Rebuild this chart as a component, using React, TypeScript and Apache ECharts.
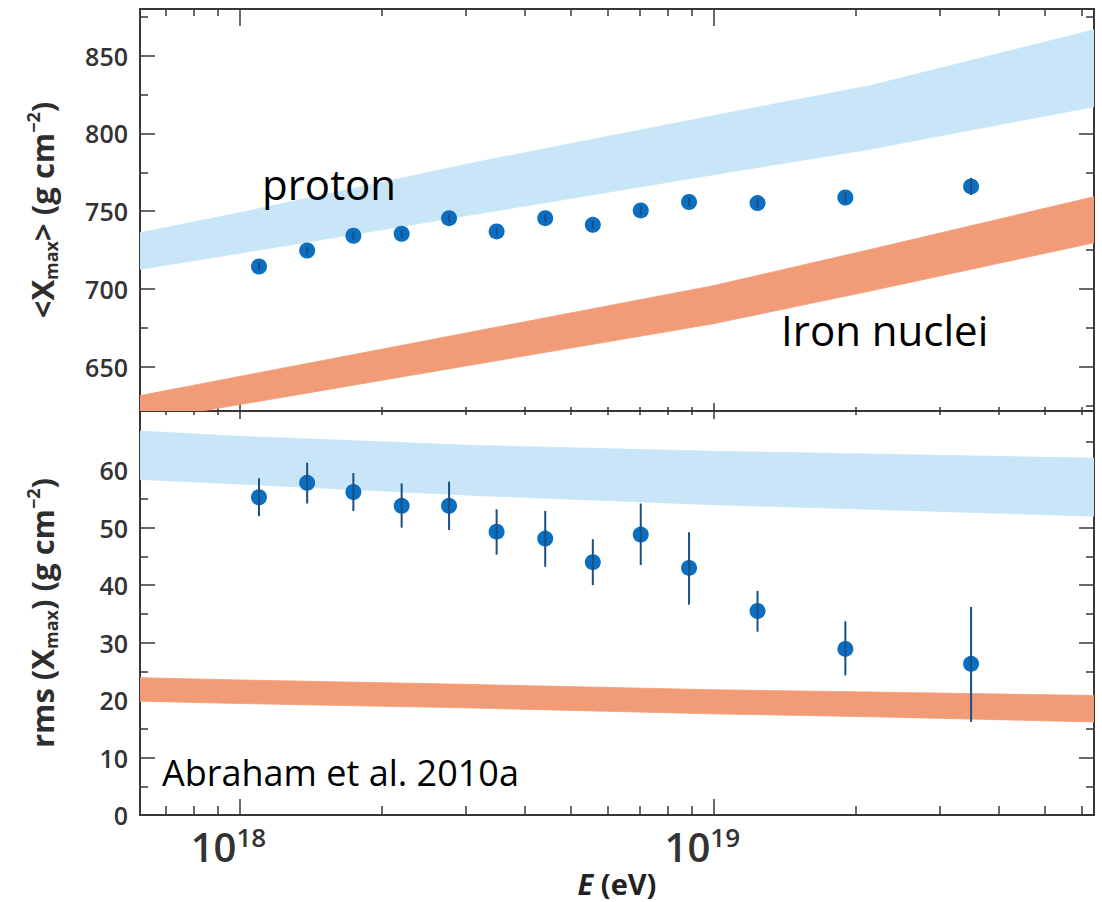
import React, { useEffect, useRef } from 'react';
import * as echarts from 'echarts';

// ---------- data ----------
const energy = [1.10e18, 1.39e18, 1.74e18, 2.20e18, 2.77e18, 3.49e18, 4.42e18, 5.57e18, 7.03e18, 8.89e18, 1.24e19, 1.90e19, 3.50e19];
const meanXmax = [714.4, 724.7, 734.2, 735.5, 745.5, 737.0, 745.5, 741.2, 750.5, 755.9, 755.2, 758.8, 765.9];
const meanXmaxErr = [2.5, 2.5, 2.5, 2.5, 2.5, 2.5, 2.5, 2.5, 3, 3, 3, 3.5, 5.5];
const rmsXmax = [55.3, 57.8, 56.2, 53.8, 53.8, 49.3, 48.1, 44.0, 48.8, 43.0, 35.5, 28.9, 26.3];
const rmsLow = [52.0, 54.2, 52.9, 50.0, 49.6, 45.3, 43.2, 40.0, 43.5, 36.6, 31.9, 24.3, 16.2];
const rmsHigh = [58.6, 61.3, 59.5, 57.7, 58.0, 53.2, 52.9, 48.0, 54.2, 49.2, 39.0, 33.7, 36.2];

const bandEnergy = [6.17e17, 1e18, 3.16e18, 1e19, 2.14e19, 6.36e19];
const protonMeanLow = [712.6, 722.9, 748.1, 773.4, 789.8, 817.2];
const protonMeanHigh = [736.1, 749.0, 781.5, 811.4, 830.7, 866.7];
const ironMeanLow = [614.7, 625.6, 651.6, 677.6, 698.6, 729.7];
const ironMeanHigh = [631.4, 643.7, 672.9, 702.1, 725.3, 759.3];
const protonRmsLow = [58.4, 57.6, 55.6, 54.0, 53.2, 52.0];
const protonRmsHigh = [66.8, 65.9, 64.3, 63.3, 62.8, 62.1];
const ironRmsLow = [19.8, 19.4, 18.6, 17.6, 17.1, 16.2];
const ironRmsHigh = [23.9, 23.5, 22.7, 21.8, 21.4, 20.8];

const xMajorTicks = [1e18, 1e19];
const xMinorTicks = [7e17, 8e17, 9e17, 2e18, 3e18, 4e18, 5e18, 6e18, 7e18, 8e18, 9e18, 2e19, 3e19, 4e19, 5e19, 6e19];
const yMajorTop = [650, 700, 750, 800, 850];
const yMinorTop = [625, 675, 725, 775, 825, 875];
const yMajorBottom = [0, 10, 20, 30, 40, 50, 60];
const yMinorBottom = [5, 15, 25, 35, 45, 55, 65];

const X_MIN = 6.17e17;
const X_MAX = 6.36e19;
const TOP_MIN = 621.5;
const TOP_MAX = 880;
const BOT_MIN = 0;
const BOT_MAX = 70.3;

// ---------- styles ----------
const AXIS_COLOR = '#3b3535';
const LABEL_COLOR = '#333333';
const PROTON_COLOR = '#c8e6f8';
const IRON_COLOR = '#f29c77';
const POINT_COLOR = '#0a6fc0';
const ERR_COLOR = '#1b4f82';
const FONT = '"Open Sans", "DejaVu Sans", sans-serif';

function xAxis(gridIndex: number, position: string, ticks: number[], len: number, extra: any = {}) {
  return {
    type: 'log',
    logBase: 10,
    gridIndex,
    position,
    min: X_MIN,
    max: X_MAX,
    axisLine: { show: true, onZero: false, lineStyle: { color: AXIS_COLOR, width: 2 } },
    axisTick: { show: true, inside: true, length: len, customValues: ticks, lineStyle: { color: AXIS_COLOR, width: 1.5 } },
    axisLabel: { show: false },
    splitLine: { show: false },
    minorTick: { show: false },
    minorSplitLine: { show: false },
    ...extra,
  };
}

function yAxis(gridIndex: number, position: string, min: number, max: number, ticks: number[], len: number, extra: any = {}) {
  return {
    type: 'value',
    gridIndex,
    position,
    min,
    max,
    axisLine: { show: true, onZero: false, lineStyle: { color: AXIS_COLOR, width: 2 } },
    axisTick: { show: true, inside: true, length: len, customValues: ticks, lineStyle: { color: AXIS_COLOR, width: 1.5 } },
    axisLabel: { show: false },
    splitLine: { show: false },
    ...extra,
  };
}

const yLabel = (ticks: number[]) => ({
  show: true,
  customValues: ticks,
  margin: 12,
  color: LABEL_COLOR,
  fontFamily: FONT,
  fontSize: 25,
  fontWeight: 600,
});

const nameRich = {
  n: { fontSize: 31, fontWeight: 'bold', color: '#2e2e2e', fontFamily: FONT, lineHeight: 36 },
  sub: { fontSize: 18, fontWeight: 'bold', color: '#2e2e2e', fontFamily: FONT, verticalAlign: 'bottom', lineHeight: 18 },
  sup: { fontSize: 18, fontWeight: 'bold', color: '#2e2e2e', fontFamily: FONT, verticalAlign: 'top', lineHeight: 18 },
};

// band drawn as quads between consecutive nodes, clipped to the grid
function bandSeries(xi: number, yi: number, low: number[], high: number[], color: string) {
  const data: number[][] = [];
  for (let i = 0; i < bandEnergy.length - 1; i++) {
    data.push([bandEnergy[i], low[i], high[i], bandEnergy[i + 1], low[i + 1], high[i + 1]]);
  }
  return {
    type: 'custom', xAxisIndex: xi, yAxisIndex: yi, z: 1, silent: true,
    encode: { x: [0, 3], y: [1, 2, 4, 5] },
    data,
    renderItem: (params: any, api: any) => {
      const a = api.coord([api.value(0), api.value(1)]);
      const b = api.coord([api.value(0), api.value(2)]);
      const c = api.coord([api.value(3), api.value(5)]);
      const d = api.coord([api.value(3), api.value(4)]);
      const cs = params.coordSys;
      return {
        type: 'polygon',
        shape: { points: [a, b, c, d] },
        style: { fill: color, stroke: color, lineWidth: 0.8 },
        clipPath: { type: 'rect', shape: { x: cs.x, y: cs.y, width: cs.width, height: cs.height } },
      };
    },
  };
}

function errorSeries(xi: number, yi: number, data: number[][]) {
  return {
    type: 'custom', xAxisIndex: xi, yAxisIndex: yi, z: 4, silent: true,
    encode: { x: 0, y: [1, 2] },
    data,
    renderItem: (params: any, api: any) => {
      const x = api.value(0);
      const p1 = api.coord([x, api.value(1)]);
      const p2 = api.coord([x, api.value(2)]);
      return {
        type: 'line',
        shape: { x1: p1[0], y1: p1[1], x2: p2[0], y2: p2[1] },
        style: { stroke: ERR_COLOR, lineWidth: 2 },
      };
    },
  };
}

const option: any = {
  animation: false,
  backgroundColor: '#ffffff',
  textStyle: { fontFamily: FONT },
  grid: [
    { left: 140, top: 9, width: 954, height: 402 },
    { left: 140, top: 411, width: 954, height: 404 },
  ],
  xAxis: [
    xAxis(0, 'bottom', xMajorTicks, 8),
    xAxis(0, 'bottom', xMinorTicks, 4),
    xAxis(0, 'top', xMajorTicks, 17),
    xAxis(0, 'top', xMinorTicks, 7),
    xAxis(1, 'bottom', xMajorTicks, 16, {
      axisLabel: {
        show: true,
        customValues: xMajorTicks,
        margin: 9,
        padding: [0, 22, 0, 0],
        formatter: (v: number) => `{b|10}{s|${Math.round(Math.log10(v))}}`,
        rich: {
          b: { fontSize: 40, fontFamily: FONT, fontWeight: 600, color: LABEL_COLOR, lineHeight: 44 },
          s: { fontSize: 26, fontFamily: FONT, fontWeight: 600, color: LABEL_COLOR, verticalAlign: 'top', lineHeight: 30 },
        },
      },
      name: '{i|E}{n| (eV)}',
      nameLocation: 'middle',
      nameGap: 53,
      nameTextStyle: {
        rich: {
          i: { fontSize: 29, fontWeight: 'bold', fontStyle: 'italic', color: '#222', fontFamily: FONT, lineHeight: 31 },
          n: { fontSize: 29, fontWeight: 'bold', color: '#222', fontFamily: FONT, lineHeight: 31 },
        },
      },
    }),
    xAxis(1, 'bottom', xMinorTicks, 9),
    xAxis(1, 'top', xMajorTicks, 8),
    xAxis(1, 'top', xMinorTicks, 4),
  ],
  yAxis: [
    yAxis(0, 'left', TOP_MIN, TOP_MAX, yMajorTop, 15, {
      axisLabel: yLabel(yMajorTop),
      name: '{n|<X}{sub|max}{n|> (g cm}{sup|−2}{n|)}',
      nameLocation: 'middle',
      nameRotate: 90,
      nameGap: 80,
      nameTextStyle: { rich: nameRich },
    }),
    yAxis(0, 'left', TOP_MIN, TOP_MAX, yMinorTop, 8),
    yAxis(0, 'right', TOP_MIN, TOP_MAX, yMajorTop, 15),
    yAxis(0, 'right', TOP_MIN, TOP_MAX, yMinorTop, 8),
    yAxis(1, 'left', BOT_MIN, BOT_MAX, yMajorBottom, 15, {
      axisLabel: yLabel(yMajorBottom),
      name: '{n|rms (X}{sub|max}{n|) (g cm}{sup|−2}{n|)}',
      nameLocation: 'middle',
      nameRotate: 90,
      nameGap: 80,
      nameTextStyle: { rich: nameRich },
    }),
    yAxis(1, 'left', BOT_MIN, BOT_MAX, yMinorBottom, 8),
    yAxis(1, 'right', BOT_MIN, BOT_MAX, yMajorBottom, 15),
    yAxis(1, 'right', BOT_MIN, BOT_MAX, yMinorBottom, 8),
  ],
  series: [
    bandSeries(0, 0, protonMeanLow, protonMeanHigh, PROTON_COLOR),
    bandSeries(0, 0, ironMeanLow, ironMeanHigh, IRON_COLOR),
    bandSeries(4, 4, protonRmsLow, protonRmsHigh, PROTON_COLOR),
    bandSeries(4, 4, ironRmsLow, ironRmsHigh, IRON_COLOR),
    {
      type: 'scatter', xAxisIndex: 0, yAxisIndex: 0, z: 3, silent: true,
      symbolSize: 16, itemStyle: { color: POINT_COLOR, opacity: 1 },
      data: energy.map((e, i) => [e, meanXmax[i]]),
    },
    errorSeries(0, 0, energy.map((e, i) => [e, meanXmax[i] - meanXmaxErr[i], meanXmax[i] + meanXmaxErr[i]])),
    {
      type: 'scatter', xAxisIndex: 4, yAxisIndex: 4, z: 3, silent: true,
      symbolSize: 16, itemStyle: { color: POINT_COLOR, opacity: 1 },
      data: energy.map((e, i) => [e, rmsXmax[i]]),
    },
    errorSeries(4, 4, energy.map((e, i) => [e, rmsLow[i], rmsHigh[i]])),
  ],
  graphic: [
    { type: 'text', x: 262, y: 183, z: 10, style: { text: 'proton', fontSize: 42, fontFamily: FONT, fill: '#000', verticalAlign: 'middle' } },
    { type: 'text', x: 781, y: 329, z: 10, style: { text: 'Iron nuclei', fontSize: 42, fontFamily: FONT, fill: '#000', verticalAlign: 'middle' } },
    { type: 'text', x: 162, y: 772, z: 10, style: { text: 'Abraham et al. 2010a', fontSize: 36, fontFamily: FONT, fill: '#000', verticalAlign: 'middle' } },
  ],
};

export default function App() {
  const ref = useRef<HTMLDivElement>(null);
  useEffect(() => {
    if (!ref.current) return;
    const chart = echarts.init(ref.current, null, { renderer: 'svg' });
    chart.setOption(option);
    return () => chart.dispose();
  }, []);
  return (
    <div
      ref={ref}
      style={{ position: 'fixed', left: 0, top: 0, width: 1102, height: 902, background: '#ffffff' }}
    />
  );
}
